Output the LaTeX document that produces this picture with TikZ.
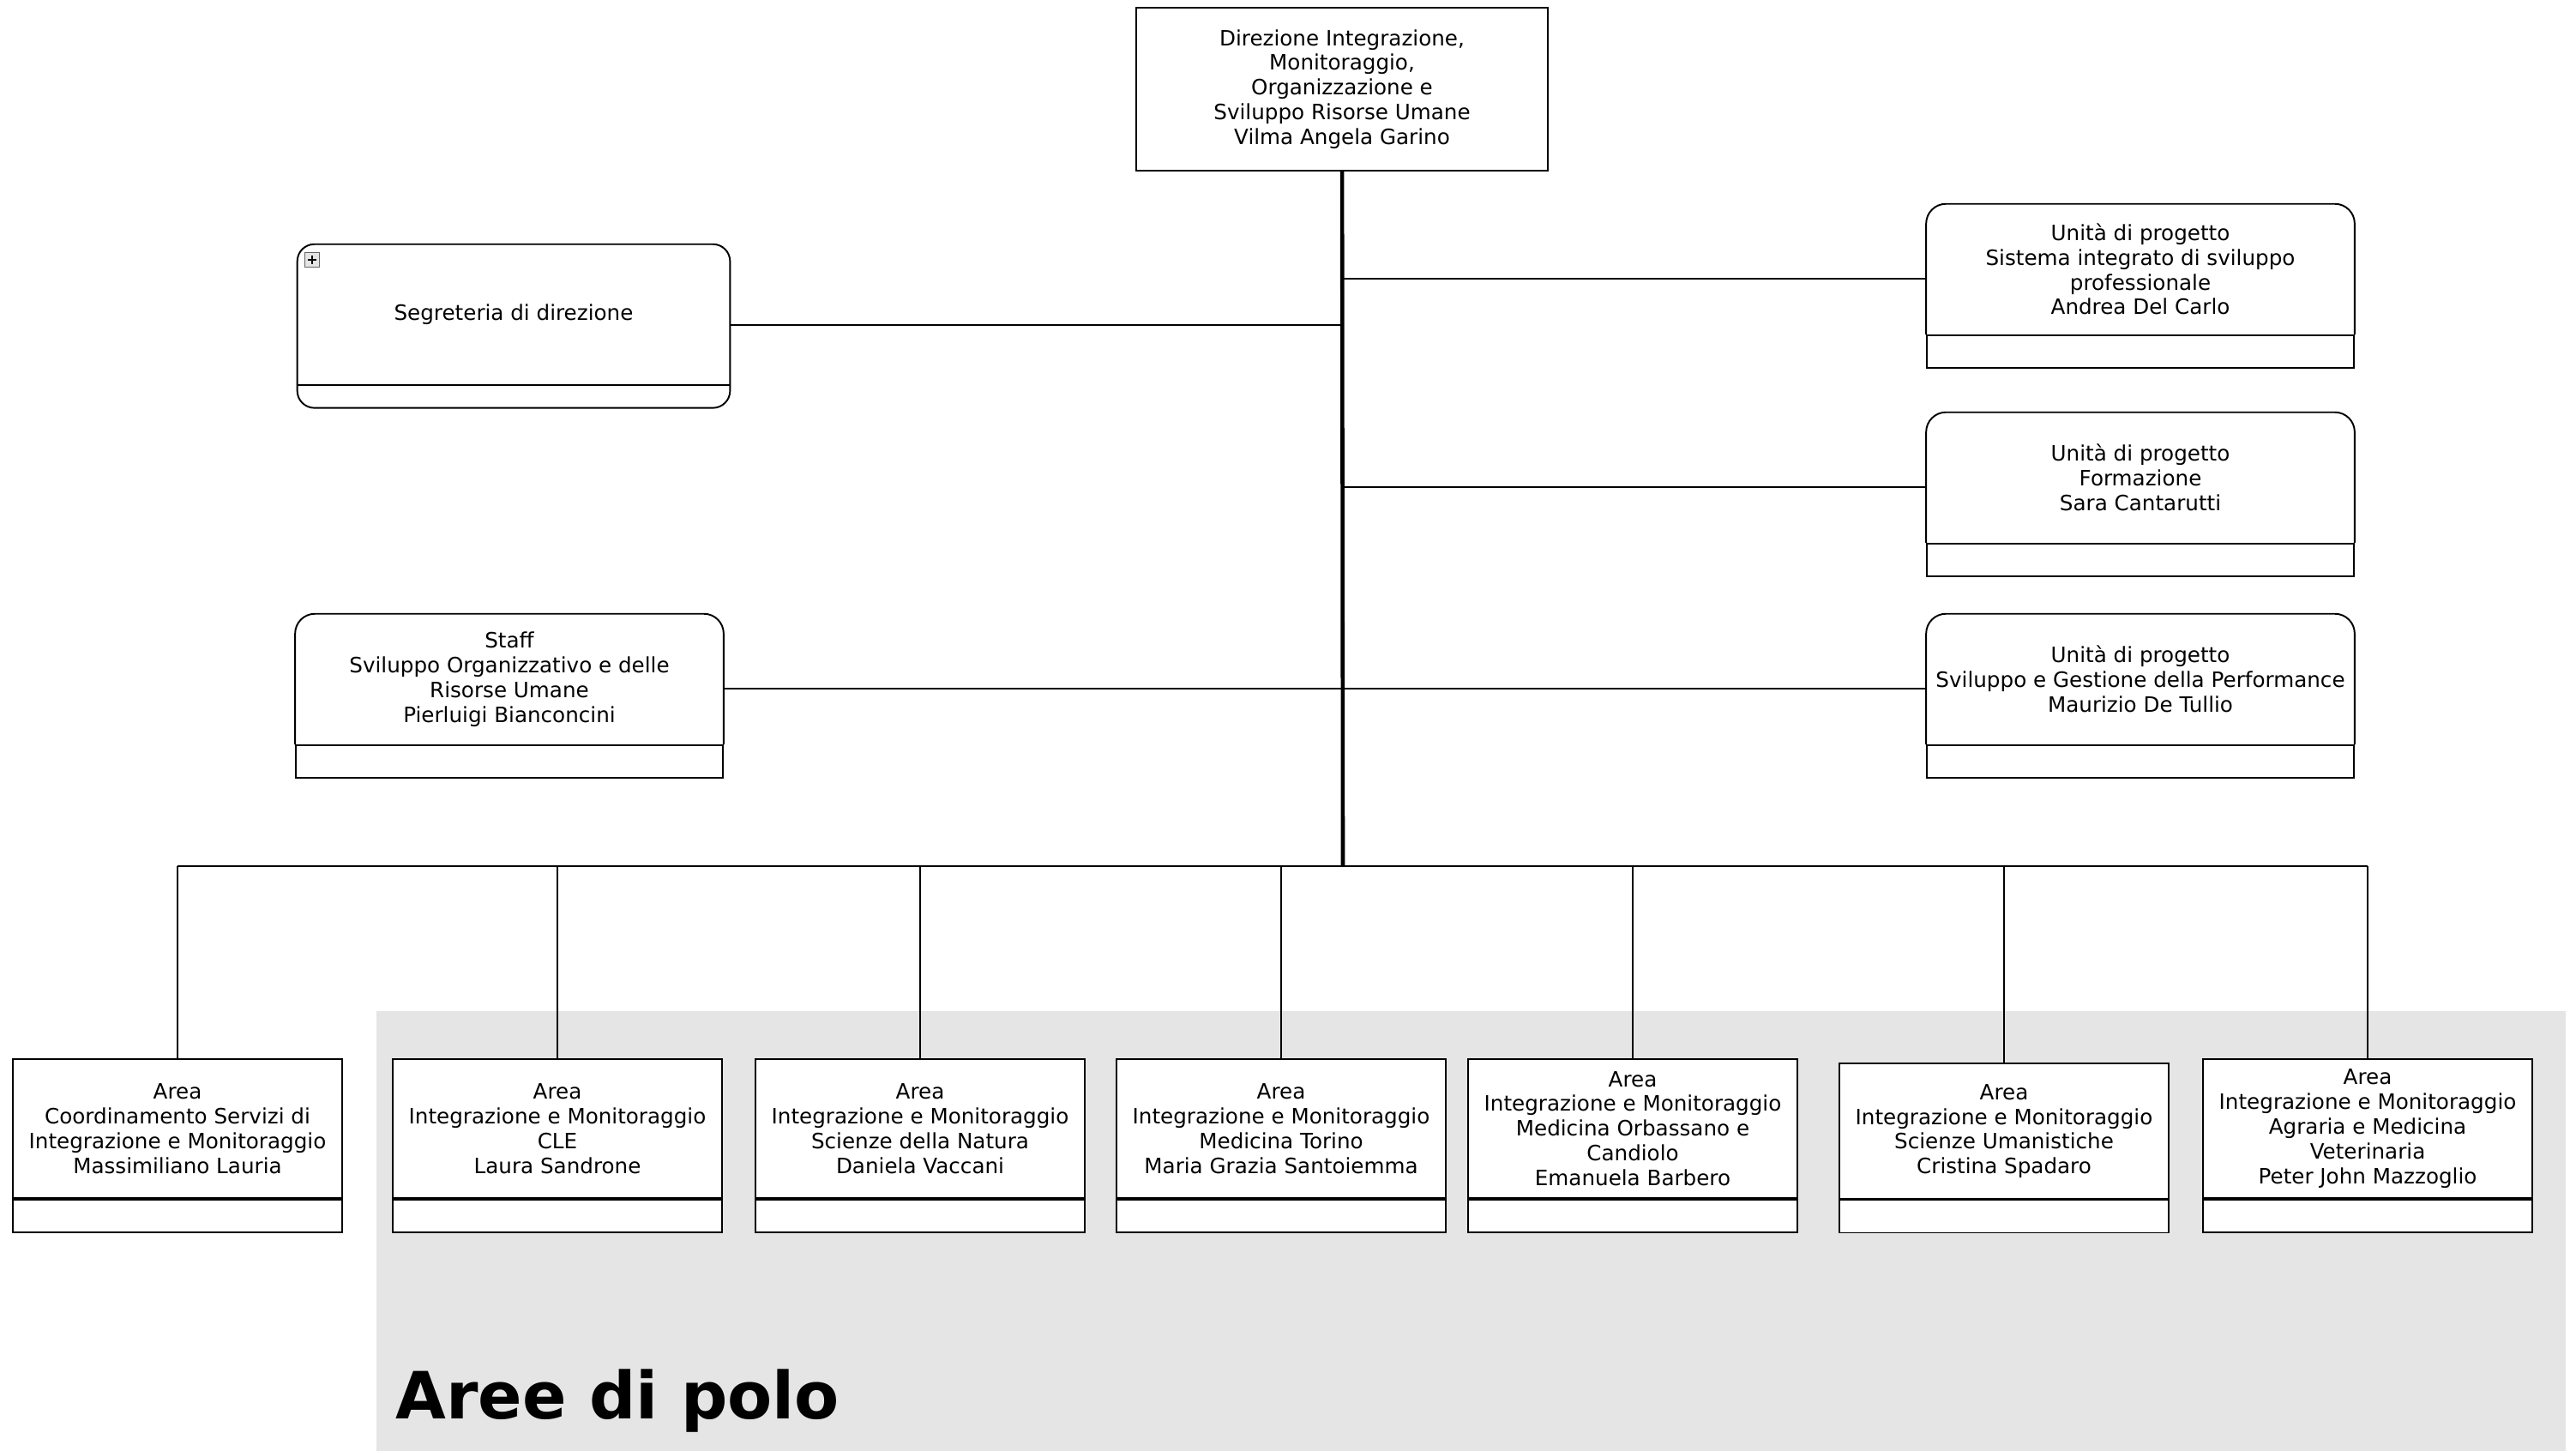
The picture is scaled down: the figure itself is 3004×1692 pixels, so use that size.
\documentclass[tikz,border=0pt]{standalone}
\usepackage{fontspec}
\setmainfont{DejaVu Sans}
\usepackage{tikz}
\usetikzlibrary{positioning,calc}

\definecolor{polo}{HTML}{E5E5E5}

\tikzset{
  every node/.style={font=\fontsize{7}{8.2}\selectfont, align=center, inner sep=0pt},
  line/.style={line width=0.55pt},
  trunk/.style={line width=1.3pt},
  unit/.style={minimum width=4.98cm, minimum height=1.51cm},
  area/.style={draw, line width=0.55pt, fill=white, minimum width=3.83cm, minimum height=1.62cm},
  foot/.style={draw, line width=0.55pt, fill=white, minimum height=0.38cm},
}

\begin{document}
\begin{tikzpicture}[x=0.01cm, y=-0.01cm]
\useasboundingbox (0,0) rectangle (3004,1692);
\fill[polo] (439,1179) rectangle (2992,1692);

\node[anchor=base west, font=\bfseries\fontsize{21.6}{26}\selectfont] (polo) at (461,1654) {Aree di polo};

% direzione
\node[draw, line, fill=white, minimum width=4.79cm, minimum height=1.90cm] (dir) at (1565,104) {Direzione Integrazione,\\Monitoraggio,\\Organizzazione e\\Sviluppo Risorse Umane\\Vilma Angela Garino};

% left side
\node[unit, minimum width=5.03cm, minimum height=1.63cm] (seg) at (599,367) {Segreteria di direzione};
\node[minimum width=5.03cm, minimum height=0.25cm, below=0pt of seg] (seg-low) {};
\draw[line, rounded corners=0.2cm] (seg.west) -- (seg.north west) -- (seg.north east) -- (seg-low.south east) -- (seg-low.south west) -- cycle;
\draw[line] (seg.south west) -- (seg.south east);
\node[draw=gray!80!black, fill=gray!20, line width=0.4pt, minimum size=0.17cm] (plus) at (364,303) {};
\draw[line width=0.7pt] ($(plus)+(-5,0)$) -- ($(plus)+(5,0)$) ($(plus)+(0,-5)$) -- ($(plus)+(0,5)$);

\node[unit] (staff) at (594,792) {Staff\\Sviluppo Organizzativo e delle\\Risorse Umane\\Pierluigi Bianconcini};
\node[foot, minimum width=4.98cm, below=0pt of staff] (staff-low) {};
\draw[line, rounded corners=0.23cm] (staff.south west) -- (staff.north west) -- (staff.north east) -- (staff.south east);

% right side
\node[unit] (u1) at (2496,314) {Unità di progetto\\Sistema integrato di sviluppo\\professionale\\Andrea Del Carlo};
\node[foot, minimum width=4.98cm, below=0pt of u1] (u1-low) {};
\draw[line, rounded corners=0.23cm] (u1.south west) -- (u1.north west) -- (u1.north east) -- (u1.south east);

\node[unit] (u2) at (2496,557) {Unità di progetto\\Formazione\\Sara Cantarutti};
\node[foot, minimum width=4.98cm, below=0pt of u2] (u2-low) {};
\draw[line, rounded corners=0.23cm] (u2.south west) -- (u2.north west) -- (u2.north east) -- (u2.south east);

\node[unit] (u3) at (2496,792) {Unità di progetto\\Sviluppo e Gestione della Performance\\Maurizio De Tullio};
\node[foot, minimum width=4.98cm, below=0pt of u3] (u3-low) {};
\draw[line, rounded corners=0.23cm] (u3.south west) -- (u3.north west) -- (u3.north east) -- (u3.south east);

% aree
\node[area] (a1) at (207,1316) {Area\\Coordinamento Servizi di\\Integrazione e Monitoraggio\\Massimiliano Lauria};
\node[area] (a2) at (650,1316) {Area\\Integrazione e Monitoraggio\\CLE\\Laura Sandrone};
\node[area] (a3) at (1073,1316) {Area\\Integrazione e Monitoraggio\\Scienze della Natura\\Daniela Vaccani};
\node[area] (a4) at (1494,1316) {Area\\Integrazione e Monitoraggio\\Medicina Torino\\Maria Grazia Santoiemma};
\node[area] (a5) at (1904,1316) {Area\\Integrazione e Monitoraggio\\Medicina Orbassano e\\Candiolo\\Emanuela Barbero};
\node[area, minimum height=1.57cm] (a6) at (2337,1319) {Area\\Integrazione e Monitoraggio\\Scienze Umanistiche\\Cristina Spadaro};
\node[area] (a7) at (2761,1316) {Area\\Integrazione e Monitoraggio\\Agraria e Medicina\\Veterinaria\\Peter John Mazzoglio};
\foreach \a in {a1,a2,a3,a4,a5,a6,a7}
  \node[foot, minimum width=3.83cm, below=0pt of \a] (\a-low) {};

% connectors
\coordinate (bus) at (1566,1010);
\draw[trunk] (dir) -- (bus);
\draw[line] (a1.north |- bus) -- (a7.north |- bus);
\foreach \a in {a1,a2,a3,a4,a5,a6,a7}
  \draw[line] (\a.north |- bus) -- (\a);
\draw[line] ($(seg.north east)+(0,94)$) -- (bus |- {$(seg.north east)+(0,94)$});
\draw[line] ($(u1.north west)+(0,87)$) -- (bus |- {$(u1.north west)+(0,87)$});
\draw[line] ($(u2.north west)+(0,87)$) -- (bus |- {$(u2.north west)+(0,87)$});
\draw[line] ($(staff.north east)+(0,87)$) -- ($(u3.north west)+(0,87)$);
\end{tikzpicture}
\end{document}
